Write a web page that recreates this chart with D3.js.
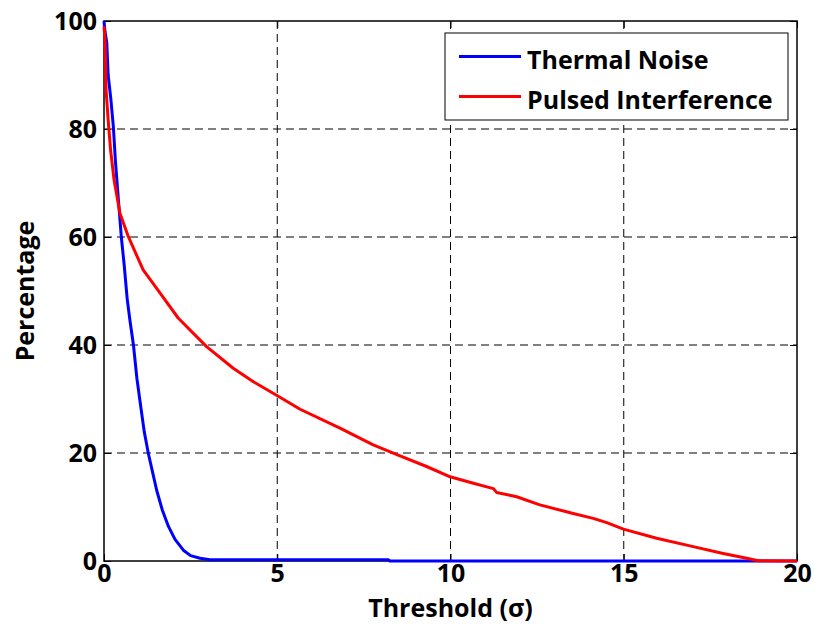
<!DOCTYPE html>
<html>
<head>
<meta charset="utf-8">
<script src="https://cdn.jsdelivr.net/npm/d3@7"></script>
<style>
  html, body { margin: 0; padding: 0; background: #fff; }
  svg { display: block; font-family: "Open Sans", Lato, sans-serif; font-weight: bold; }
</style>
</head>
<body>
<svg id="chart" width="814" height="635"></svg>
<script>
// Threshold (sigma) vs percentage of samples exceeding it
const thermalT = [0, 0.03, 0.08, 0.12, 0.2, 0.27, 0.33, 0.42, 0.5, 0.58, 0.67, 0.75, 0.85, 0.95, 1.06, 1.16, 1.28, 1.40, 1.52, 1.68, 1.86, 2.05, 2.29, 2.5, 2.77, 3.06, 8.2, 8.25, 20];
const thermalV = [100, 98, 96, 90, 85.4, 80.4, 74, 66.5, 60, 55, 48.5, 44.5, 40, 33.8, 28.6, 24, 19.9, 16.5, 13.1, 9.5, 6.4, 4.0, 2.0, 1.0, 0.5, 0.25, 0.25, 0, 0];

const pulsedT = [0, 0.03, 0.06, 0.12, 0.19, 0.29, 0.46, 0.70, 1.13, 1.62, 2.14, 2.96, 3.73, 4.31, 4.98, 5.66, 6.81, 7.77, 8.49, 9.31, 9.99, 10.66, 11.24, 11.33, 11.91, 12.58, 13.54, 14.12, 14.51, 14.99, 15.95, 16.91, 17.87, 18.55, 18.88, 20];
const pulsedV = [99, 96.5, 87.2, 81.7, 76.1, 70.6, 64.4, 60.1, 53.9, 49.6, 45.0, 39.7, 35.7, 33.2, 30.7, 28.1, 24.6, 21.5, 19.6, 17.5, 15.6, 14.4, 13.4, 12.7, 11.9, 10.4, 8.8, 7.9, 7.1, 5.9, 4.2, 2.8, 1.4, 0.5, 0.05, 0];

const xTicks = [0, 5, 10, 15, 20];
const yTicks = [0, 20, 40, 60, 80, 100];
const seriesNames = ["Thermal Noise", "Pulsed Interference"];
const seriesColors = ["#0000ff", "#ff0000"];

const svg = d3.select("#chart");
const L = 104, R = 797, T = 21, B = 561;
const FS = 25;

const x = d3.scaleLinear().domain([0, 20]).range([L, R]);
const y = d3.scaleLinear().domain([0, 100]).range([B, T]);

// grid
const grid = svg.append("g").attr("stroke", "#000").attr("stroke-width", 1).attr("stroke-dasharray", "8,5");
xTicks.slice(1, -1).forEach(t => grid.append("line").attr("x1", x(t)).attr("x2", x(t)).attr("y1", T).attr("y2", B));
yTicks.slice(1, -1).forEach(t => grid.append("line").attr("x1", L).attr("x2", R).attr("y1", y(t)).attr("y2", y(t)));

// axes with inward ticks on all four sides
const tickLen = 7;
svg.append("g").attr("transform", `translate(0,${B})`)
  .call(d3.axisBottom(x).tickValues(xTicks).tickSizeInner(-tickLen).tickSizeOuter(0).tickPadding(3))
  .call(g => g.select(".domain").remove());
svg.append("g").attr("transform", `translate(0,${T})`)
  .call(d3.axisTop(x).tickValues(xTicks).tickSizeInner(-tickLen).tickSizeOuter(0).tickFormat(""))
  .call(g => g.select(".domain").remove());
svg.append("g").attr("transform", `translate(${L},0)`)
  .call(d3.axisLeft(y).tickValues(yTicks).tickSizeInner(-tickLen).tickSizeOuter(0).tickPadding(7))
  .call(g => g.select(".domain").remove());
svg.append("g").attr("transform", `translate(${R},0)`)
  .call(d3.axisRight(y).tickValues(yTicks).tickSizeInner(-tickLen).tickSizeOuter(0).tickFormat(""))
  .call(g => g.select(".domain").remove());

svg.selectAll(".tick line").attr("stroke", "#000").attr("stroke-width", 1);
svg.selectAll(".tick text").attr("fill", "#000").attr("font-size", FS)
  .attr("font-family", "'Open Sans', sans-serif").attr("font-weight", "bold");

// frame
svg.append("rect").attr("x", L).attr("y", T).attr("width", R - L).attr("height", B - T)
  .attr("fill", "none").attr("stroke", "#000").attr("stroke-width", 1.5);

// curves
const line = d3.line().x(d => x(d[0])).y(d => y(d[1]));
const thermal = thermalT.map((t, i) => [t, thermalV[i]]);
const pulsed = pulsedT.map((t, i) => [t, pulsedV[i]]);
[thermal, pulsed].forEach((data, i) => {
  svg.append("path").datum(data).attr("d", line)
    .attr("fill", "none").attr("stroke", seriesColors[i]).attr("stroke-width", 3)
    .attr("stroke-linejoin", "round");
});

// axis titles
svg.append("text").attr("x", (L + R) / 2).attr("y", 617).attr("text-anchor", "middle")
  .attr("font-size", FS).text("Threshold (σ)");
svg.append("text").attr("transform", `translate(34,${(T + B) / 2}) rotate(-90)`).attr("text-anchor", "middle")
  .attr("font-size", FS).text("Percentage");

// legend
const lg = svg.append("g");
lg.append("rect").attr("x", 445).attr("y", 33).attr("width", 343).attr("height", 87)
  .attr("fill", "#fff").attr("stroke", "#000").attr("stroke-width", 1);
seriesNames.forEach((name, i) => {
  const ly = 56.5 + i * 40;
  lg.append("line").attr("x1", 459).attr("x2", 521).attr("y1", ly).attr("y2", ly)
    .attr("stroke", seriesColors[i]).attr("stroke-width", 3);
  lg.append("text").attr("x", 527).attr("y", ly + 12).attr("font-size", FS).text(name);
});
</script>
</body>
</html>
